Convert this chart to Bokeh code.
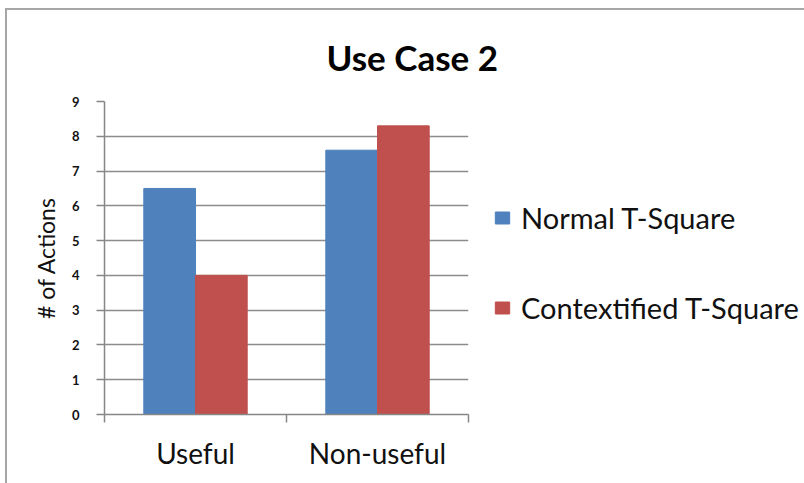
from bokeh.plotting import figure
from bokeh.models import Range1d, FixedTicker, Legend, LegendItem
from bokeh.embed import file_html
from bokeh.resources import INLINE
import numpy as np

title_text = "Use Case 2"
y_label = "# of Actions"
categories = ["Useful", "Non-useful"]
series_names = ["Normal T-Square", "Contextified T-Square"]
normal_values = [6.5, 7.6]
contextified_values = [4.0, 8.3]
y_ticks = [0, 1, 2, 3, 4, 5, 6, 7, 8, 9]

colors = ["#4F81BD", "#C0504D"]
FONT = "Lato"
TXT = "#111111"

n = len(categories)
centers = np.arange(n) + 0.5
bar_w = 0.284

p = figure(frame_width=364, frame_height=313, output_backend="svg", toolbar_location=None,
           x_range=Range1d(0, n), y_range=Range1d(0, 9),
           min_border_left=97, min_border_right=0, min_border_top=91, min_border_bottom=69)
p.margin = (8, 0, 0, 5)
p.styles = {"border-left": "2px solid #a6a6a6", "border-top": "2px solid #a6a6a6"}
p.outline_line_color = None

r1 = p.vbar(x=centers - bar_w / 2, top=normal_values, width=bar_w, color=colors[0], line_color=colors[0])
r2 = p.vbar(x=centers + bar_w / 2, top=contextified_values, width=bar_w, color=colors[1], line_color=colors[1])

# title
p.title.text = title_text
p.title.text_font = FONT
p.title.text_font_size = "35px"
p.title.text_font_style = "bold"
p.title.text_color = "#000000"
p.title.align = "left"
p.title.vertical_align = "top"
p.title.offset = 222
p.title.standoff = 43

# x axis
xa = p.xaxis[0]
xa.ticker = FixedTicker(ticks=list(centers), minor_ticks=list(range(n + 1)))
xa.major_label_overrides = {float(c): lab for c, lab in zip(centers, categories)}
xa.major_tick_line_color = None
xa.minor_tick_line_color = "#868686"
xa.minor_tick_out = 8
xa.minor_tick_in = 0
xa.axis_line_color = "#868686"
xa.axis_line_width = 1.5
xa.minor_tick_line_width = 1.5
xa.major_label_text_font = FONT
xa.major_label_text_font_size = "28px"
xa.major_label_text_color = TXT
xa.major_label_standoff = 13

# y axis
ya = p.yaxis[0]
ya.ticker = FixedTicker(ticks=y_ticks)
ya.minor_tick_line_color = None
ya.major_tick_out = 8
ya.major_tick_in = 0
ya.major_tick_line_color = "#868686"
ya.major_tick_line_width = 1.5
ya.axis_line_color = "#868686"
ya.axis_line_width = 1.5
ya.major_label_text_font = FONT
ya.major_label_text_font_size = "13px"
ya.major_label_text_font_style = "bold"
ya.major_label_text_color = TXT
ya.major_label_standoff = 17
ya.axis_label = y_label
ya.axis_label_text_font = FONT
ya.axis_label_text_font_size = "23px"
ya.axis_label_text_font_style = "normal"
ya.axis_label_text_color = TXT
ya.axis_label_standoff = 9

p.xgrid.grid_line_color = None
p.ygrid.grid_line_color = "#8c8c8c"
p.ygrid.grid_line_width = 1.5

legend = Legend(items=[LegendItem(label=series_names[0], renderers=[r1]),
                       LegendItem(label=series_names[1], renderers=[r2])],
                location=(25, 89), orientation="vertical",
                glyph_width=18, glyph_height=15, label_standoff=10,
                label_height=30, spacing=55, padding=0, margin=0,
                border_line_color=None, background_fill_alpha=0,
                label_text_font=FONT, label_text_font_size="29px",
                label_text_color=TXT)
p.add_layout(legend, "right")

open("out.html", "w").write(file_html(p, INLINE))
